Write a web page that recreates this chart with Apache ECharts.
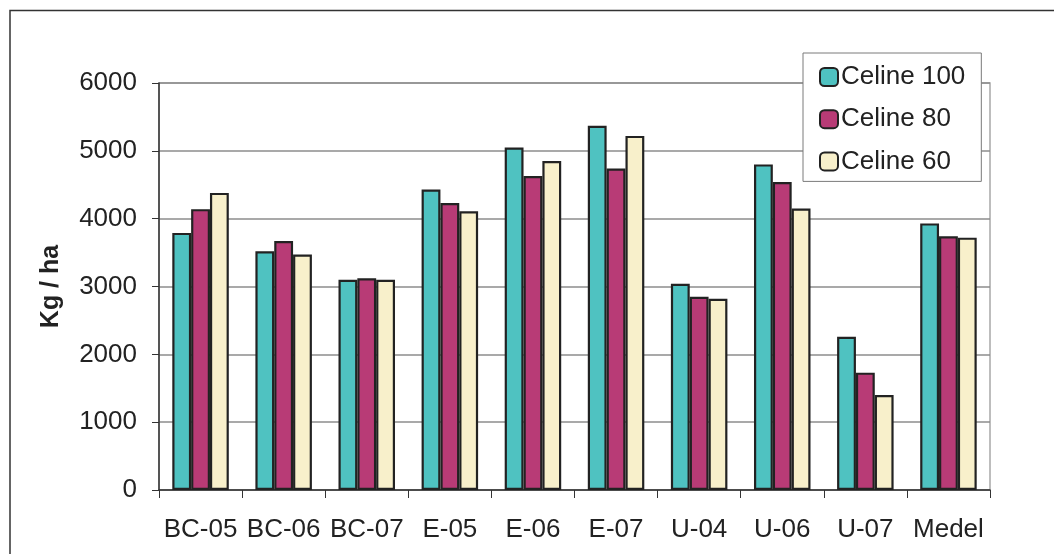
<!DOCTYPE html>
<html>
<head>
<meta charset="utf-8">
<script src="https://cdn.jsdelivr.net/npm/echarts@6/dist/echarts.min.js"></script>
<style>
html,body{margin:0;padding:0;background:#fff;}
#main{width:1054px;height:554px;}
</style>
</head>
<body>
<div id="main"></div>
<script>
var categories = ['BC-05','BC-06','BC-07','E-05','E-06','E-07','U-04','U-06','U-07','Medel'];
var celine100 = [3790,3520,3100,4430,5050,5370,3040,4800,2260,3930];
var celine80  = [4140,3670,3120,4230,4630,4740,2850,4540,1730,3740];
var celine60  = [4380,3470,3100,4110,4850,5220,2820,4150,1400,3720];
var yTicks = [0,1000,2000,3000,4000,5000,6000];
var seriesNames = ['Celine 100','Celine 80','Celine 60'];

var FONT = 'Liberation Sans, Arial, sans-serif';
var chart = echarts.init(document.getElementById('main'));
function bar(name, data, color){
  return {
    name: name, type: 'bar', data: data,
    barGap: '0%', barCategoryGap: '32%',
    itemStyle: {color: color, borderColor: '#222', borderWidth: 2.2},
    emphasis: {disabled: true}
  };
}
chart.setOption({
  animation: false,
  backgroundColor: '#fff',
  graphic: [{
    type: 'rect', silent: true, z: -10,
    shape: {x: 10, y: 10.5, width: 1200, height: 700},
    style: {fill: 'none', stroke: '#333', lineWidth: 1.5}
  }],
  grid: {left: 159, top: 83, width: 831, height: 407, show: true, borderColor: '#a8a8a8', borderWidth: 1.5, backgroundColor: 'transparent'},
  legend: {
    orient: 'vertical', left: 803, top: 53,
    padding: [11, 16, 7, 16],
    itemWidth: 18, itemHeight: 18, itemGap: 16.2,
    backgroundColor: '#fff', borderColor: '#7a7a7a', borderWidth: 1,
    textStyle: {fontFamily: FONT, fontSize: 26, color: '#222', padding: [0,0,0,-2]},
    data: seriesNames
  },
  xAxis: {
    type: 'category', data: categories,
    axisLine: {lineStyle: {color: '#333', width: 1.5}},
    axisTick: {show: true, length: 8, lineStyle: {color: '#333', width: 1}},
    axisLabel: {fontFamily: FONT, fontSize: 26, color: '#222', margin: 27, interval: 0}
  },
  yAxis: {
    type: 'value', min: yTicks[0], max: yTicks[yTicks.length-1], interval: 1000,
    name: 'Kg / ha', nameLocation: 'middle', nameGap: 95, nameRotate: 90,
    nameTextStyle: {fontFamily: FONT, fontSize: 25, fontWeight: 'bold', color: '#222'},
    axisLine: {show: true, lineStyle: {color: '#333', width: 1.5}},
    axisTick: {show: true, length: 7, lineStyle: {color: '#333', width: 1}},
    axisLabel: {fontFamily: FONT, fontSize: 26, color: '#222', margin: 22, formatter: function(v){ return String(v); }},
    splitLine: {show: true, lineStyle: {color: '#8c8c8c', width: 1.5}}
  },
  series: [
    bar(seriesNames[0], celine100, '#4fc2c1'),
    bar(seriesNames[1], celine80, '#b83b76'),
    bar(seriesNames[2], celine60, '#f8f0cb')
  ]
});
</script>
</body>
</html>
